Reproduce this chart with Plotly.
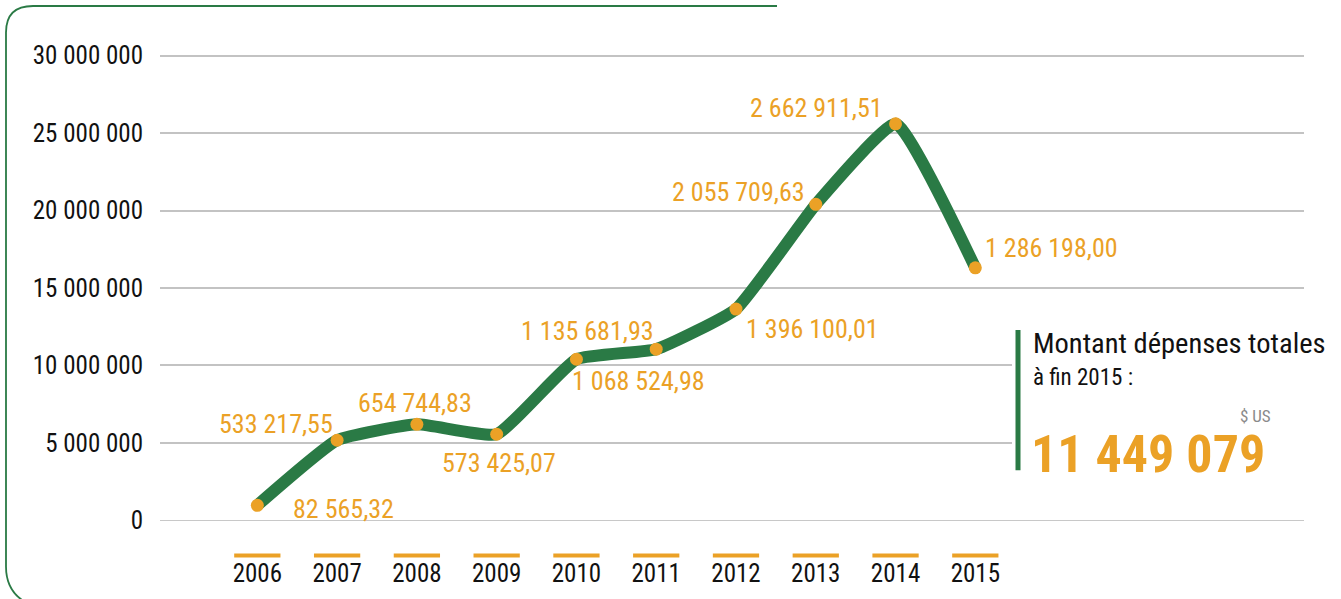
import plotly.graph_objects as go

# ---- data ----
years = [2006, 2007, 2008, 2009, 2010, 2011, 2012, 2013, 2014, 2015]
line_values = [970000, 5170000, 6200000, 5560000, 10400000, 11050000, 13640000, 20400000, 25600000, 16300000]
yearly_spend = [82565.32, 533217.55, 654744.83, 573425.07, 1135681.93, 1068524.98, 1396100.01, 2055709.63, 2662911.51, 1286198.00]
y_ticks = [0, 5000000, 10000000, 15000000, 20000000, 25000000, 30000000]
total_label = "11 449 079"
box_title = "Montant dépenses totales"
box_sub = "à fin 2015 :"
unit = "$ US"

# ---- style ----
FONT = "Liberation Sans Narrow, Roboto Condensed, Roboto, sans-serif"
GREEN = "#2a7a45"
ORANGE = "#eba126"
W, H = 1341, 599
L, R = 160, 1304
T, B = 51.4, 524.6


def fr(v, dec=2):
    s = f"{v:,.{dec}f}"
    s = s.replace(",", " ").replace(".", ",")
    return s


def px(x, y):
    return (x - L) / (R - L), (B - y) / (B - T)


fig = go.Figure()
fig.add_trace(go.Scatter(
    x=years, y=line_values, mode="lines",
    line=dict(color=GREEN, width=12, shape="spline", smoothing=0.4),
    hoverinfo="skip", showlegend=False))
fig.add_trace(go.Scatter(
    x=years, y=line_values, mode="markers",
    marker=dict(color=ORANGE, size=13, line=dict(width=0)),
    showlegend=False))

# label offsets (pixels) relative to markers
offsets = [("left", 34, -4), ("right", -2, 16), ("center", -2, 21), ("center", 2, -29),
           ("center", 11, 28), ("center", -18, -32), ("left", 8, -20), ("right", -9, 12),
           ("right", -11, 16), ("left", 8, 20)]
annotations = []
for yr, v, s, (xa, dx, dy) in zip(years, line_values, yearly_spend, offsets):
    annotations.append(dict(x=yr, y=v, text=fr(s), showarrow=False, xanchor=xa, yanchor="middle",
                            xshift=dx, yshift=dy, font=dict(family=FONT, size=26, color=ORANGE)))

# right info box
bx, by = px(1031, 343)
annotations.append(dict(x=bx, y=by, xref="paper", yref="paper", text=box_title, showarrow=False,
                        xanchor="left", yanchor="middle", font=dict(family=FONT, size=28.5, color="#111111")))
bx, by = px(1031, 377)
annotations.append(dict(x=bx, y=by, xref="paper", yref="paper", text=box_sub, showarrow=False,
                        xanchor="left", yanchor="middle", font=dict(family=FONT, size=23, color="#111111")))
bx, by = px(1273, 416)
annotations.append(dict(x=bx, y=by, xref="paper", yref="paper", text=unit, showarrow=False,
                        xanchor="right", yanchor="middle", font=dict(family=FONT, size=17, color="#8a8a8a")))
bx, by = px(1029, 454)
annotations.append(dict(x=bx, y=by, xref="paper", yref="paper", text="<b>" + total_label + "</b>",
                        showarrow=False, xanchor="left", yanchor="middle",
                        font=dict(family=FONT, size=52, color=ORANGE)))

shapes = []
# orange bars above year labels
yb = px(0, 555)[1]
for yr in years:
    shapes.append(dict(type="line", xref="x", yref="paper", x0=yr - 0.29, x1=yr + 0.29, y0=yb, y1=yb,
                       line=dict(color=ORANGE, width=4)))
# white panel behind the info box (hides the gridlines there)
x0, y0 = px(1012, 322)
x1, y1 = px(1341, 480)
shapes.append(dict(type="rect", xref="paper", yref="paper", x0=x0, x1=x1, y0=y0, y1=y1,
                   fillcolor="white", line=dict(width=0), layer="above"))
# green vertical bar of info box
x0, y0 = px(1018, 330)
x1, y1 = px(1018, 470)
shapes.append(dict(type="line", xref="paper", yref="paper", x0=x0, x1=x1, y0=y0, y1=y1,
                   line=dict(color=GREEN, width=5), layer="above"))


# frame
def P(x, y):
    a, b = px(x, y)
    return f"{a:.5f},{b:.5f}"


frame = (f"M {P(777, 6.5)} L {P(33, 6.5)} Q {P(6, 6.5)} {P(6, 33)} L {P(6, 566)} "
         f"Q {P(6, 592)} {P(28, 603)}")
shapes.append(dict(type="path", xref="paper", yref="paper", path=frame,
                   line=dict(color=GREEN, width=1.8)))

fig.update_layout(
    width=W, height=H,
    margin=dict(l=L, r=W - R, t=T, b=H - B),
    paper_bgcolor="white", plot_bgcolor="white",
    font=dict(family=FONT, size=25, color="#111111"),
    annotations=annotations, shapes=shapes,
    xaxis=dict(range=[2004.78, 2019.12], tickvals=years, ticktext=[str(y) for y in years],
               showgrid=False, zeroline=False, showline=False, ticks="",
               ticklabelstandoff=31, tickfont=dict(family=FONT, size=25, color="#111111")),
    yaxis=dict(range=[-300000, 30300000], tickvals=y_ticks, ticktext=[fr(v, 0) for v in y_ticks],
               showgrid=True, gridcolor="#c3c3c3", gridwidth=2, zeroline=True,
               zerolinecolor="#c8c8c8", zerolinewidth=1, showline=False, ticks="",
               ticklabelstandoff=16, tickfont=dict(family=FONT, size=25, color="#111111")),
)

fig.write_html("out.html", config={"displayModeBar": False},
               post_script="document.body.style.margin='0';document.body.style.padding='0';"
                           "document.body.style.overflow='hidden';")
